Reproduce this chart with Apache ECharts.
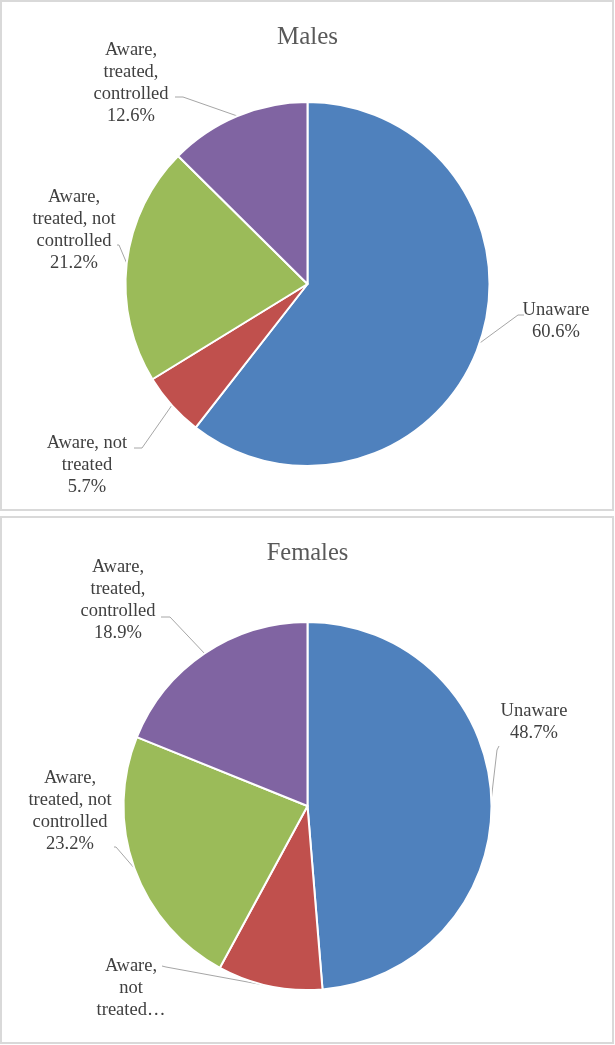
<!DOCTYPE html>
<html>
<head>
<meta charset="utf-8">
<script src="https://cdn.jsdelivr.net/npm/echarts@6/dist/echarts.min.js"></script>
<style>
html,body{margin:0;padding:0;background:#fff;}
#chart{width:615px;height:1045px;}
</style>
</head>
<body>
<div id="chart"></div>
<script>
// ---- data ----
const categories = ['Unaware', 'Aware, not treated', 'Aware, treated, not controlled', 'Aware, treated, controlled'];
const malesValues = [60.6, 5.7, 21.2, 12.6];
const femalesValues = [48.7, 9.2, 23.2, 18.9];
const malesLabelText = ['Unaware\n60.6%', 'Aware, not\ntreated\n5.7%', 'Aware,\ntreated, not\ncontrolled\n21.2%', 'Aware,\ntreated,\ncontrolled\n12.6%'];
const femalesLabelText = ['Unaware\n48.7%', 'Aware,\nnot\ntreated\u2026', 'Aware,\ntreated, not\ncontrolled\n23.2%', 'Aware,\ntreated,\ncontrolled\n18.9%'];
const colors = ['#4f81bd', '#c0504d', '#9bbb59', '#8064a2'];

// ---- label layout (positions of label blocks and leader elbows) ----
const malesLabelPos = [[556, 321], [87, 465], [74, 230], [131, 83]];
const malesElbows = [[[518, 315], [524, 315]], [[142, 448], [134, 448]], [[119, 245], [117, 245]], [[183, 97], [175, 97]]];
const femalesLabelPos = [[534, 722], [131, 988], [70, 811], [118, 600]];
const femalesElbows = [[[497, 750], [499, 746]], [[166, 967], [162, 966]], [[116, 847], [114, 847]], [[170, 617], [161, 617]]];

const FONT = '"Liberation Serif", "Times New Roman", serif';

function makeSeries(values, labelText, centerY, radius, pos, elbows) {
  return {
    type: 'pie',
    center: ['50%', centerY],
    radius: radius,
    startAngle: 90,
    clockwise: true,
    animation: false,
    itemStyle: { borderColor: '#ffffff', borderWidth: 2 },
    label: {
      show: true,
      position: 'outside',
      formatter: function (p) { return labelText[p.dataIndex]; },
      fontFamily: FONT,
      fontSize: 18.5,
      lineHeight: 22,
      color: '#404040',
      align: 'center'
    },
    labelLine: { show: true, lineStyle: { color: '#a6a6a6', width: 1 }, length: 10, length2: 10 },
    labelLayout: function (params) {
      const i = params.dataIndex;
      const anchor = params.labelLinePoints ? params.labelLinePoints[0] : elbows[i][0];
      return {
        x: pos[i][0],
        y: pos[i][1],
        align: 'center',
        verticalAlign: 'middle',
        labelLinePoints: [anchor, elbows[i][0], elbows[i][1]]
      };
    },
    data: categories.map(function (c, i) {
      return { name: c, value: values[i], itemStyle: { color: colors[i] } };
    })
  };
}

const chart = echarts.init(document.getElementById('chart'), null, { renderer: 'canvas' });
chart.setOption({
  backgroundColor: '#ffffff',
  animation: false,
  title: [
    { text: 'Males', left: 'center', top: 20, textStyle: { fontFamily: FONT, fontSize: 25, fontWeight: 'normal', color: '#595959' } },
    { text: 'Females', left: 'center', top: 536, textStyle: { fontFamily: FONT, fontSize: 24.5, fontWeight: 'normal', color: '#595959' } }
  ],
  graphic: [
    { type: 'rect', shape: { x: 1, y: 1, width: 612, height: 509 }, style: { fill: 'none', stroke: '#d9d9d9', lineWidth: 2 }, silent: true },
    { type: 'rect', shape: { x: 1, y: 517, width: 612, height: 526 }, style: { fill: 'none', stroke: '#d9d9d9', lineWidth: 2 }, silent: true }
  ],
  series: [
    makeSeries(malesValues, malesLabelText, 284, 182, malesLabelPos, malesElbows),
    makeSeries(femalesValues, femalesLabelText, 806, 184, femalesLabelPos, femalesElbows)
  ]
});
</script>
</body>
</html>
